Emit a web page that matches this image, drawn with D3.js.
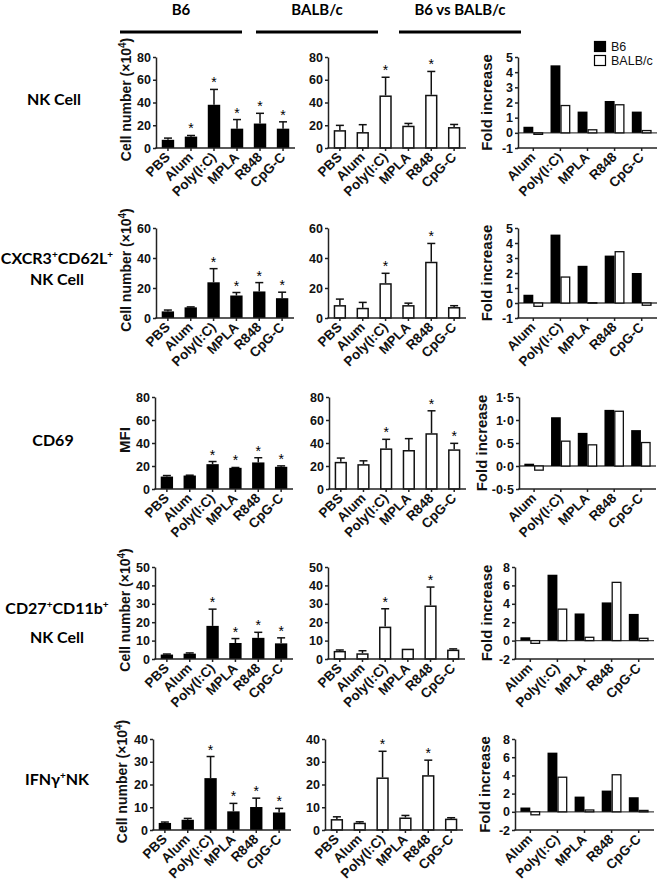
<!DOCTYPE html>
<html><head><meta charset="utf-8">
<script src="https://cdn.jsdelivr.net/npm/d3@7"></script>
<style>body{margin:0;background:#fff}</style>
</head><body>
<script>
// ---------- DATA ----------
const categories = ["PBS","Alum","Poly(I:C)","MPLA","R848","CpG-C"];
const foldCategories = ["Alum","Poly(I:C)","MPLA","R848","CpG-C"];
const strains = ["B6","BALB/c"];
const columnHeaders = ["B6","BALB/c","B6 vs BALB/c"];

// Row 1: NK Cell
const nkB6Mean   = [7.2, 10, 38, 17, 21.5, 17];
const nkB6Err    = [1.5, 1, 13.5, 8, 9, 6];
const nkB6Sig    = [0,1,1,1,1,1];
const nkBalbMean = [15.7, 14, 46.2, 19.6, 46.8, 18.4];
const nkBalbErr  = [4.2, 6.5, 16, 2, 20.5, 2.3];
const nkBalbSig  = [0,0,1,0,1,0];
const nkFoldB6   = [0.4, 4.45, 1.4, 2.1, 1.4];
const nkFoldBalb = [-0.1, 1.8, 0.2, 1.85, 0.15];

// Row 2: CXCR3+CD62L+ NK Cell
const cxB6Mean   = [4.4, 7.1, 23.8, 15, 17.7, 13.2];
const cxB6Err    = [0.9, 0.3, 9.1, 2, 5.9, 4];
const cxB6Sig    = [0,0,1,1,1,1];
const cxBalbMean = [8.6, 6.8, 23.2, 8.6, 37.5, 7.3];
const cxBalbErr  = [4, 3.6, 6.6, 1.3, 12.2, 0.9];
const cxBalbSig  = [0,0,1,0,1,0];
const cxFoldB6   = [0.55, 4.56, 2.48, 3.16, 2.0];
const cxFoldBalb = [-0.22, 1.73, 0.02, 3.42, -0.15];

// Row 3: CD69
const cdB6Mean   = [10.8, 11.7, 21.6, 18.4, 23.1, 19.3];
const cdB6Err    = [0.9, 0.3, 2.3, 0.3, 4.1, 0.8];
const cdB6Sig    = [0,0,1,1,1,1];
const cdBalbMean = [23.6, 21.6, 35.3, 33.9, 48.5, 34.5];
const cdBalbErr  = [3.3, 2.9, 7.9, 9.9, 19.5, 5.2];
const cdBalbSig  = [0,0,1,0,1,1];
const cdFoldB6   = [0.05, 1.06, 0.72, 1.22, 0.78];
const cdFoldBalb = [-0.09, 0.54, 0.46, 1.19, 0.51];

// Row 4: CD27+CD11b+ NK Cell
const c27B6Mean   = [2.4, 2.9, 18, 8.7, 11.5, 8.5];
const c27B6Err    = [0.3, 0.4, 9.1, 2.4, 3, 3];
const c27B6Sig    = [0,0,1,1,1,1];
const c27BalbMean = [4.4, 3.1, 17.6, 5.6, 29.1, 5.1];
const c27BalbErr  = [0.5, 1.4, 9.7, 0, 10, 0.4];
const c27BalbSig  = [0,0,1,0,1,0];
const c27FoldB6   = [0.36, 7.16, 2.95, 4.15, 2.9];
const c27FoldBalb = [-0.3, 3.42, 0.36, 6.33, 0.25];

// Row 5: IFNγ+NK
const ifB6Mean   = [3.1, 4.5, 22.8, 8.2, 10.1, 7.7];
const ifB6Err    = [0.4, 0.6, 9.5, 3.5, 3.9, 1.8];
const ifB6Sig    = [0,0,1,1,1,1];
const ifBalbMean = [4.8, 3.2, 23.1, 5.5, 24.1, 5.0];
const ifBalbErr  = [1, 0.4, 11.5, 0.9, 6.6, 0.4];
const ifBalbSig  = [0,0,1,0,1,0];
const ifFoldB6   = [0.47, 6.5, 1.67, 2.33, 1.6];
const ifFoldBalb = [-0.33, 3.8, 0.2, 4.07, 0.15];

// axis ranges / ticks
const countMax   = [80, 60, 80, 50, 40];
const countStep  = [20, 20, 20, 10, 10];
const foldMin    = [-1, -1, -0.5, -2, -2];
const foldMax    = [5, 5, 1.5, 8, 8];
const foldStep   = [1, 1, 0.5, 2, 2];
const yTitles    = ["cell","cell","MFI","cell","cell"];

// ---------- LAYOUT ----------
const W = 660, H = 880;
const FT = "'Liberation Sans', Arial, sans-serif";
const FH = "Lato, 'Open Sans', sans-serif";
const rowsLayout = [
  {top:57,  bottom:148, lx:[156,295], mx:[328,466], fx:[518,657], tx:131, fxT:492},
  {top:228, bottom:318, lx:[156,294], mx:[328,466], fx:[518,657], tx:131, fxT:492},
  {top:397, bottom:489, lx:[155,293], mx:[329,466], fx:[519,656], tx:130, fxT:487},
  {top:567, bottom:659, lx:[155,293], mx:[328,465], fx:[515,654], tx:130, fxT:492},
  {top:739, bottom:830, lx:[153,291], mx:[325,463], fx:[515,654], tx:127, fxT:490}
];
const rowsData = [
  {b6:[nkB6Mean,nkB6Err,nkB6Sig], bc:[nkBalbMean,nkBalbErr,nkBalbSig], f:[nkFoldB6,nkFoldBalb]},
  {b6:[cxB6Mean,cxB6Err,cxB6Sig], bc:[cxBalbMean,cxBalbErr,cxBalbSig], f:[cxFoldB6,cxFoldBalb]},
  {b6:[cdB6Mean,cdB6Err,cdB6Sig], bc:[cdBalbMean,cdBalbErr,cdBalbSig], f:[cdFoldB6,cdFoldBalb]},
  {b6:[c27B6Mean,c27B6Err,c27B6Sig], bc:[c27BalbMean,c27BalbErr,c27BalbSig], f:[c27FoldB6,c27FoldBalb]},
  {b6:[ifB6Mean,ifB6Err,ifB6Sig], bc:[ifBalbMean,ifBalbErr,ifBalbSig], f:[ifFoldB6,ifFoldBalb]}
];

const svg = d3.select("body").append("svg").attr("width",W).attr("height",H)
  .style("background","#fff");

// ---------- headers ----------
const headerX = [[120,242],[256,378],[399,521]];
columnHeaders.forEach((h,i)=>{
  const cx = (headerX[i][0]+headerX[i][1])/2;
  svg.append("text").attr("x",cx).attr("y",15).attr("text-anchor","middle")
    .style("font-family",FH).style("font-weight","700").style("font-size","15px").text(h);
  svg.append("line").attr("x1",headerX[i][0]).attr("x2",headerX[i][1])
    .attr("y1",32).attr("y2",32).attr("stroke","#000").attr("stroke-width",3);
});

// ---------- row labels ----------
function rowLabel(x, y, parts){
  const t = svg.append("text").attr("x",x).attr("y",y).attr("text-anchor","middle")
    .style("font-family",FH).style("font-weight","700").style("font-size","16px");
  parts.forEach(p=>{
    const s = t.append("tspan").text(p[0]);
    if(p[1]) s.attr("baseline-shift","super").style("font-size","10px");
  });
}
rowLabel(54,105,[["NK Cell"]]);
rowLabel(57,264,[["CXCR3"],["+",1],["CD62L"],["+",1]]);
rowLabel(57,285,[["NK Cell"]]);
rowLabel(53,446,[["CD69"]]);
rowLabel(57,614,[["CD27"],["+",1],["CD11b"],["+",1]]);
rowLabel(57,643,[["NK Cell"]]);
rowLabel(57,785,[["IFNγ"],["+",1],["NK"]]);

// ---------- helpers ----------
function styleAxis(ax){
  ax.select(".domain").attr("stroke","#222").attr("stroke-width",1.5);
  ax.selectAll(".tick line").attr("stroke","#222").attr("stroke-width",1.5);
  ax.selectAll(".tick text").style("font-family",FT).style("font-weight","700")
    .style("font-size","12.5px").attr("fill","#111");
}
function xLabels(g, scale, cats, bottom, centerOf){
  cats.forEach(c=>{
    const cx = centerOf(c);
    g.append("line").attr("x1",cx).attr("x2",cx).attr("y1",bottom).attr("y2",bottom+3)
      .attr("stroke","#222").attr("stroke-width",1.5);
    g.append("text").attr("text-anchor","end")
      .attr("transform",`translate(${cx+3},${bottom+10}) rotate(-45)`)
      .style("font-family",FT).style("font-weight","700").style("font-size","13.5px")
      .attr("fill","#111").text(c);
  });
}
function yTitle(x, yc, kind, isFold){
  const t = svg.append("text").attr("text-anchor","middle")
    .attr("transform",`translate(${x},${yc}) rotate(-90)`)
    .style("font-family",FT).style("font-weight","700").attr("fill","#111");
  if(isFold){ t.style("font-size","15px").text("Fold increase"); return; }
  if(kind==="MFI"){ t.style("font-size","15px").text("MFI"); return; }
  t.style("font-size","14px");
  t.append("tspan").text("Cell number (×10");
  t.append("tspan").attr("baseline-shift","super").style("font-size","10px").text("4");
  t.append("tspan").text(")");
}

function barPanel(L, xr, vals, max, step, filled){
  const g = svg.append("g");
  const y = d3.scaleLinear().domain([0,max]).range([L.bottom, L.top]);
  const x = d3.scaleBand().domain(categories).range(xr).paddingInner(0.46).paddingOuter(0.25);
  const [mean, err, sig] = vals;
  const bw = x.bandwidth();
  categories.forEach((c,i)=>{
    const x0 = x(c), cx = x0 + bw/2;
    const yt = y(mean[i]), ye = y(mean[i]+err[i]);
    if(err[i] > 0){
      g.append("line").attr("x1",cx).attr("x2",cx).attr("y1",yt).attr("y2",ye)
        .attr("stroke","#111").attr("stroke-width",1.5);
      g.append("line").attr("x1",cx-4).attr("x2",cx+4).attr("y1",ye).attr("y2",ye)
        .attr("stroke","#111").attr("stroke-width",1.5);
    }
    if(filled){
      g.append("rect").attr("x",x0).attr("y",yt).attr("width",bw).attr("height",y(0)-yt).attr("fill","#000");
    } else {
      g.append("rect").attr("x",x0+0.75).attr("y",yt+0.75).attr("width",bw-1.5)
        .attr("height",Math.max(0,y(0)-yt-0.75)).attr("fill","#fff").attr("stroke","#111").attr("stroke-width",1.5);
    }
    if(sig[i]){
      g.append("text").attr("x",cx).attr("y",ye-2).attr("text-anchor","middle")
        .style("font-family",FT).style("font-size","14px").attr("fill","#000").text("*");
    }
  });
  const ax = g.append("g").attr("transform",`translate(${xr[0]},0)`)
    .call(d3.axisLeft(y).tickValues(d3.range(0,max+0.001,step)).tickSize(3).tickPadding(2).tickSizeOuter(0));
  styleAxis(ax);
  g.append("line").attr("x1",xr[0]-0.75).attr("x2",xr[1]).attr("y1",L.bottom).attr("y2",L.bottom)
    .attr("stroke","#222").attr("stroke-width",1.5);
  xLabels(g, x, categories, L.bottom, c=>x(c)+bw/2);
}

function foldPanel(L, xr, vals, mn, mx, step){
  const g = svg.append("g");
  const y = d3.scaleLinear().domain([mn,mx]).range([L.bottom, L.top]);
  const x = d3.scaleBand().domain(foldCategories).range(xr).paddingInner(0.27).paddingOuter(0.2);
  const xs = d3.scaleBand().domain(strains).range([0, x.bandwidth()]);
  g.append("line").attr("x1",xr[0]).attr("x2",xr[1]).attr("y1",y(0)).attr("y2",y(0))
    .attr("stroke","#444").attr("stroke-width",1.3);
  foldCategories.forEach((c,i)=>{
    strains.forEach((s,j)=>{
      const v = vals[j][i];
      const x0 = x(c)+xs(s), w = xs.bandwidth();
      const y0 = y(Math.max(v,0)), y1 = y(Math.min(v,0));
      if(j===0){
        g.append("rect").attr("x",x0).attr("y",y0).attr("width",w).attr("height",y1-y0).attr("fill","#000");
      } else {
        g.append("rect").attr("x",x0+0.6).attr("y",y0).attr("width",w-1.2).attr("height",Math.max(0.5,y1-y0))
          .attr("fill","#fff").attr("stroke","#111").attr("stroke-width",1.3);
      }
    });
  });
  const fmt = step < 1 ? (d=>d3.format(".1f")(d).replace("−","-").replace(".","·")) : (d=>String(d));
  const ax = g.append("g").attr("transform",`translate(${xr[0]},0)`)
    .call(d3.axisLeft(y).tickValues(d3.range(mn,mx+0.001,step)).tickSize(3).tickPadding(2).tickSizeOuter(0).tickFormat(fmt));
  styleAxis(ax);
  g.append("line").attr("x1",xr[0]-0.75).attr("x2",xr[1]).attr("y1",L.bottom).attr("y2",L.bottom)
    .attr("stroke","#222").attr("stroke-width",1.5);
  xLabels(g, x, foldCategories, L.bottom, c=>x(c)+x.bandwidth()/2);
}

rowsLayout.forEach((L,r)=>{
  const D = rowsData[r];
  barPanel(L, L.lx, D.b6, countMax[r], countStep[r], true);
  barPanel(L, L.mx, D.bc, countMax[r], countStep[r], false);
  foldPanel(L, L.fx, D.f, foldMin[r], foldMax[r], foldStep[r]);
  const yc = (L.top+L.bottom)/2;
  yTitle(L.tx, yc - 3, yTitles[r], false);
  yTitle(L.fxT, yc, null, true);
});

// ---------- legend ----------
const leg = svg.append("g");
strains.forEach((s,i)=>{
  leg.append("rect").attr("x",594.5).attr("y",41.5+i*14).attr("width",11).attr("height",10)
    .attr("fill", i===0 ? "#000" : "#fff").attr("stroke","#000").attr("stroke-width",1.2);
  leg.append("text").attr("x",611).attr("y",51+i*14)
    .style("font-family",FT).style("font-size","12.5px").attr("fill","#111").text(s);
});
</script>
</body></html>
